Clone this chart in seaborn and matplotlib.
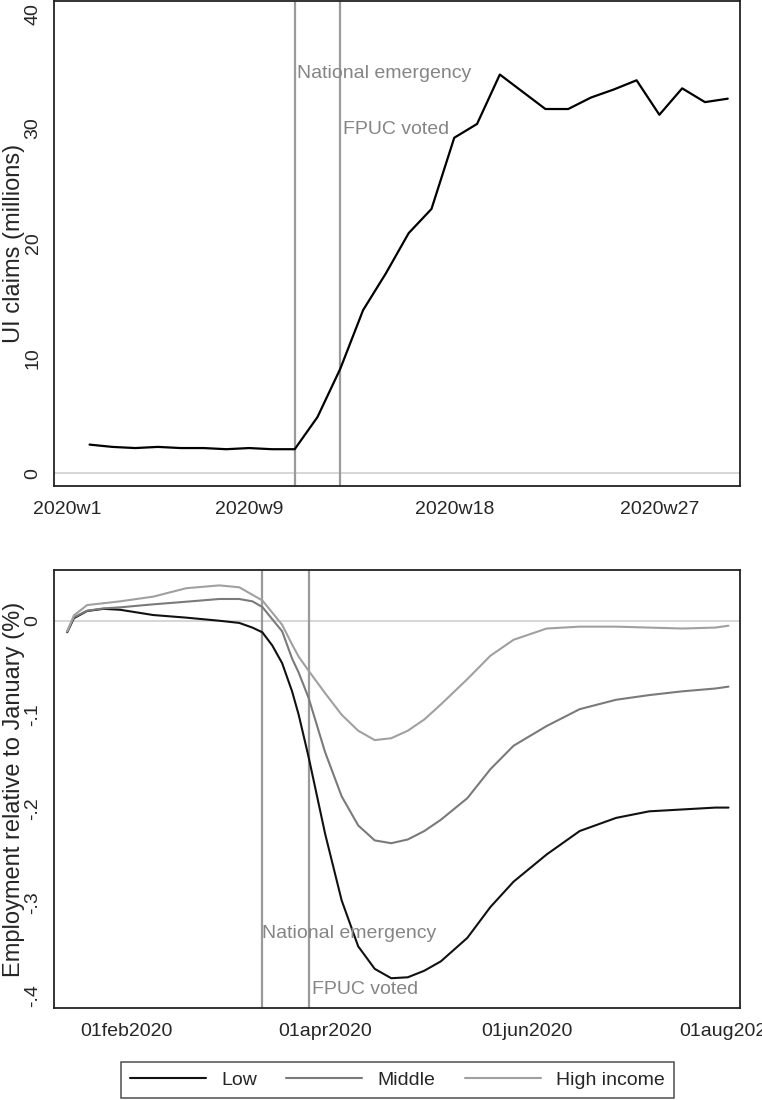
import pandas as pd
import numpy as np
import matplotlib
matplotlib.use("Agg")
import matplotlib.pyplot as plt
import matplotlib.dates as mdates
from matplotlib.lines import Line2D
import seaborn as sns

# top panel: weekly UI claims (millions)
weeks = list(range(2, 31))
ui_claims = [2.5, 2.3, 2.2, 2.3, 2.2, 2.2, 2.1, 2.2, 2.1, 2.1, 4.9, 9.1, 14.2,
             17.4, 20.9, 23.0, 29.2, 30.4, 34.7, 33.2, 31.7, 31.7, 32.7, 33.4,
             34.2, 31.2, 33.5, 32.3, 32.6]
week_ticks = [1, 9, 18, 27]
week_labels = ["2020w1", "2020w9", "2020w18", "2020w27"]

# bottom panel: employment relative to January by income group
emp_dates = ["2020-01-14", "2020-01-16", "2020-01-20", "2020-01-25", "2020-01-30",
             "2020-02-09", "2020-02-19", "2020-02-29", "2020-03-06", "2020-03-10",
             "2020-03-13", "2020-03-16", "2020-03-19", "2020-03-22", "2020-03-24",
             "2020-03-27", "2020-04-01", "2020-04-06", "2020-04-11", "2020-04-16",
             "2020-04-21", "2020-04-26", "2020-05-01", "2020-05-06", "2020-05-14",
             "2020-05-21", "2020-05-28", "2020-06-07", "2020-06-17", "2020-06-28",
             "2020-07-08", "2020-07-18", "2020-07-28", "2020-08-01"]
emp_low = [-0.012, 0.003, 0.0107, 0.013, 0.012, 0.0064, 0.0036, 0.0003, -0.002, -0.007,
           -0.012, -0.026, -0.045, -0.075, -0.100, -0.145, -0.227, -0.298, -0.347, -0.371,
           -0.381, -0.380, -0.373, -0.363, -0.338, -0.305, -0.278, -0.249, -0.224, -0.210,
           -0.203, -0.201, -0.199, -0.199]
emp_mid = [-0.011, 0.004, 0.011, 0.0135, 0.0146, 0.0178, 0.0206, 0.0235, 0.0235, 0.021,
           0.015, 0.002, -0.011, -0.040, -0.055, -0.082, -0.140, -0.187, -0.218, -0.234,
           -0.237, -0.233, -0.224, -0.212, -0.189, -0.158, -0.133, -0.112, -0.094, -0.084,
           -0.079, -0.075, -0.072, -0.070]
emp_high = [-0.011, 0.006, 0.017, 0.019, 0.021, 0.026, 0.035, 0.038, 0.036, 0.028,
            0.022, 0.009, -0.004, -0.025, -0.038, -0.053, -0.077, -0.100, -0.117, -0.127,
            -0.125, -0.117, -0.105, -0.089, -0.062, -0.037, -0.020, -0.008, -0.006, -0.006,
            -0.007, -0.008, -0.007, -0.005]
groups = ["Low", "Middle", "High income"]
group_colors = ["#111111", "#7a7a7a", "#a0a0a0"]

date_ticks = ["2020-02-01", "2020-04-01", "2020-06-01", "2020-08-01"]
emergency_date = "2020-03-13"
fpuc_date = "2020-03-27"

sns.set_theme(style="white")
plt.rcParams["font.family"] = ["Liberation Sans", "DejaVu Sans"]
plt.rcParams["axes.linewidth"] = 1.3
plt.rcParams["xtick.major.width"] = 1.1
plt.rcParams["ytick.major.width"] = 1.1

FS = 14        # ticks, notes, legend
FS_TITLE = 17  # axis titles
vline_col = "#9a9a9a"
text_col = "#858585"

fig = plt.figure(figsize=(7.62, 11), dpi=100)
ax1 = fig.add_axes([0.0709, 0.5582, 0.9003, 0.4409])
ax2 = fig.add_axes([0.0709, 0.0836, 0.9003, 0.3982])

# ---- top panel ----
df_ui = pd.DataFrame({"week": weeks, "claims": ui_claims})
ax1.axhline(0, color="#d0d0d0", lw=1.2, zorder=1)
ax1.axvline(11, color=vline_col, lw=1.6, zorder=2)
ax1.axvline(13, color=vline_col, lw=1.6, zorder=2)
sns.lineplot(data=df_ui, x="week", y="claims", ax=ax1, color="black", lw=1.6, zorder=3)
ax1.text(11.1, 34.8, "National emergency", color=text_col, fontsize=FS, va="center", ha="left")
ax1.text(13.1, 29.9, "FPUC voted", color=text_col, fontsize=FS, va="center", ha="left")
ax1.set_xlim(0.44, 30.54)
ax1.set_ylim(-1.1, 41.1)
ax1.set_xticks(week_ticks)
ax1.set_xticklabels(week_labels, fontsize=FS)
ax1.set_yticks([0, 10, 20, 30, 40])
ax1.set_yticklabels(["0", "10", "20", "30", "40"], fontsize=FS, rotation=90, va="center")
ax1.set_xlabel("")
ax1.set_ylabel("UI claims (millions)", fontsize=FS_TITLE)

# ---- bottom panel ----
emp = pd.DataFrame({
    "date": pd.to_datetime(emp_dates * 3),
    "value": emp_low + emp_mid + emp_high,
    "group": np.repeat(groups, len(emp_dates)),
})
ax2.axhline(0, color="#d0d0d0", lw=1.2, zorder=1)
ax2.axvline(pd.Timestamp(emergency_date), color=vline_col, lw=1.6, zorder=2)
ax2.axvline(pd.Timestamp(fpuc_date), color=vline_col, lw=1.6, zorder=2)
sns.lineplot(data=emp, x="date", y="value", hue="group", hue_order=groups,
             palette=group_colors, ax=ax2, lw=1.5, legend=False, zorder=3)
ax2.text(pd.Timestamp(emergency_date), -0.333, "National emergency", color=text_col,
         fontsize=FS, va="center", ha="left")
ax2.text(pd.Timestamp("2020-03-28"), -0.393, "FPUC voted", color=text_col,
         fontsize=FS, va="center", ha="left")
ax2.set_xlim(pd.Timestamp("2020-01-10"), pd.Timestamp("2020-08-04 12:00"))
ax2.set_ylim(-0.4128, 0.0544)
ax2.set_xticks(pd.to_datetime(date_ticks))
ax2.xaxis.set_major_formatter(plt.FuncFormatter(
    lambda v, pos: mdates.num2date(v).strftime("%d%b%Y").lower()))
ax2.set_yticks([0, -0.1, -0.2, -0.3, -0.4])
ax2.set_yticklabels(["0", "-.1", "-.2", "-.3", "-.4"], fontsize=FS, rotation=90, va="center")
ax2.tick_params(axis="x", labelsize=FS)
ax2.set_xlabel("")
ax2.set_ylabel("Employment relative to January (%)", fontsize=FS_TITLE)

for ax in (ax1, ax2):
    ax.tick_params(direction="out", length=7, color="black", pad=4)
    ax.tick_params(axis="y", pad=2)
    ax.yaxis.set_label_coords(-0.043, 0.5)
    for s in ax.spines.values():
        s.set_color("#222222")

handles = [Line2D([], [], color=c, lw=1.5) for c in group_colors]
leg = fig.legend(handles, groups, loc="center", bbox_to_anchor=(0.5217, 0.0182), ncol=3,
                 fontsize=FS, frameon=True, fancybox=False, handlelength=3.9,
                 columnspacing=1.5, handletextpad=0.8, borderpad=0.45, borderaxespad=0)
leg.get_frame().set_edgecolor("#222222")
leg.get_frame().set_linewidth(1.1)

fig.savefig("out.png", dpi=100)
